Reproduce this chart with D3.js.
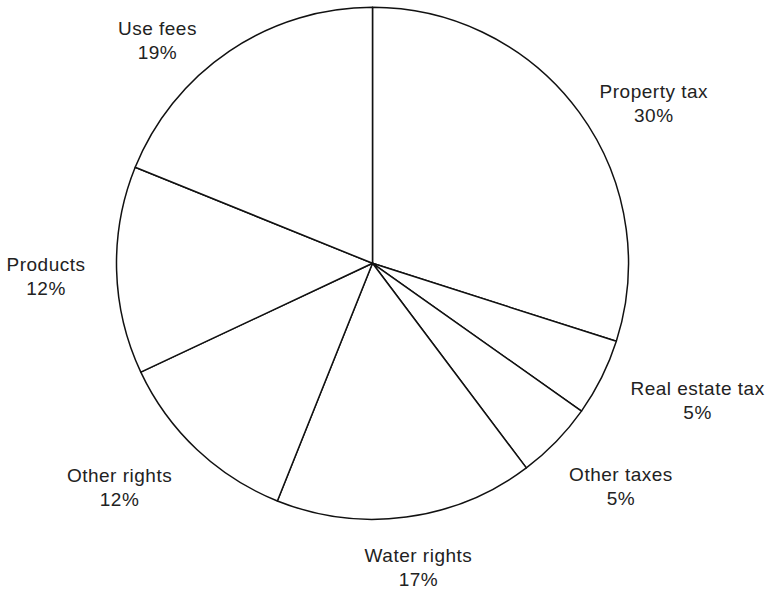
<!DOCTYPE html>
<html>
<head>
<meta charset="utf-8">
<script src="https://cdn.jsdelivr.net/npm/d3@7"></script>
<style>
  html, body { margin: 0; padding: 0; background: #fff; }
  svg { display: block; }
  text { font-family: "Liberation Sans", Arial, Helvetica, sans-serif; fill: #222; letter-spacing: 0.5px; }
</style>
</head>
<body>
<svg id="chart" width="771" height="591"></svg>
<script>
// Data (slice shares, clockwise from 12 o'clock)
const categories = ["Property tax", "Real estate tax", "Other taxes", "Water rights", "Other rights", "Products", "Use fees"];
const values = [29.93, 4.87, 4.94, 16.32, 11.95, 13.11, 18.88];
const percentLabels = ["30%", "5%", "5%", "17%", "12%", "12%", "19%"];

// Layout
const W = 771, H = 591;
const cx = 372.5, cy = 263.3, R = 256;
const labelR = 300;
// per-label nudges from the outer label arc (layout only)
const nudges = [[39, 11.3], [56.6, -2.2], [33.3, 8.6], [6.5, 1], [-47.1, 0.2], [-26.6, -0.5], [-47.4, 20.5]];

const svg = d3.select("#chart");
const g = svg.append("g").attr("transform", `translate(${cx},${cy})`);

const table = categories.map((c, i) => ({ name: c, value: values[i], pct: percentLabels[i], i }));

const pie = d3.pie().sort(null).value(d => d.value).startAngle(0).endAngle(2 * Math.PI);
const arcs = pie(table);

const arc = d3.arc().innerRadius(0).outerRadius(R);
const labelArc = d3.arc().innerRadius(labelR).outerRadius(labelR);

g.selectAll("path.slice")
  .data(arcs)
  .enter().append("path")
  .attr("class", "slice")
  .attr("d", arc)
  .attr("fill", "#fff")
  .attr("stroke", "#111")
  .attr("stroke-width", 1.5)
  .attr("stroke-linejoin", "round");

const fs = 19;
const labels = g.selectAll("text.lbl")
  .data(arcs)
  .enter().append("text")
  .attr("class", "lbl")
  .attr("text-anchor", "middle")
  .attr("font-size", fs)
  .attr("transform", d => {
    const c = labelArc.centroid(d);
    const n = nudges[d.data.i];
    return `translate(${c[0] + n[0]},${c[1] + n[1]})`;
  });

labels.append("tspan").attr("x", 0).attr("y", 0).text(d => d.data.name);
labels.append("tspan").attr("x", 0).attr("y", 24).text(d => d.data.pct);
</script>
</body>
</html>
